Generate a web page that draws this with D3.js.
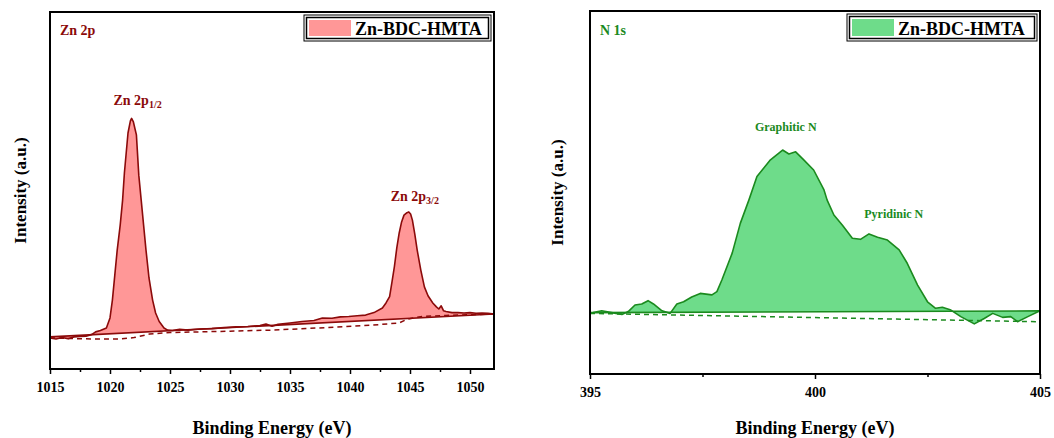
<!DOCTYPE html>
<html>
<head>
<meta charset="utf-8">
<script src="https://cdn.jsdelivr.net/npm/d3@7"></script>
<style>
  html, body { margin: 0; padding: 0; background: #fff; }
  svg { display: block; }
  text { font-family: "Liberation Serif", "Times New Roman", serif; font-weight: bold; }
</style>
</head>
<body>
<svg id="chart" width="1054" height="438"></svg>
<script>
// ---- Zn 2p spectrum (binding energy in eV, intensity in a.u.) ----
const zn2pEnergy = [1015.0,1015.5,1016.0,1016.5,1017.0,1017.5,1018.0,1018.5,1018.8,1019.2,1019.7,
  1020.0,1020.2,1020.4,1020.6,1020.85,1021.05,1021.2,1021.5,1021.7,1021.8,1021.95,1022.2,1022.4,1022.6,1022.8,
  1023.0,1023.25,1023.55,1023.8,1024.1,1024.5,1024.8,1025.2,1025.8,1026.5,1027.5,1028.5,1029.5,1030.5,1031.5,1032.5,
  1033.0,1033.5,1034.0,1035.0,1036.0,1037.0,1037.7,1038.5,1039.2,1039.9,1040.6,1041.3,1042.0,1042.7,1043.0,1043.3,
  1043.5,1043.7,1043.9,1044.1,1044.3,1044.5,1044.75,1044.9,1045.05,1045.2,1045.4,1045.6,1045.9,1046.2,1046.5,1046.9,
  1047.2,1047.4,1047.6,1047.8,1048.0,1048.5,1049.0,1049.5,1050.0,1050.5,1051.0,1051.5,1052.0];
const zn2pIntensity = [8.7,8.4,8.8,8.5,9.0,9.1,9.2,9.7,10.4,10.8,11.5,
  14.3,19.3,26.3,33.3,40.3,47.3,54.9,66.1,69.5,70.2,69.2,65.6,54.3,47.3,40.3,
  33.3,25.5,19.3,15.7,13.3,11.5,10.9,10.8,11.1,10.9,11.2,11.3,11.6,11.8,11.9,12.2,
  12.6,12.0,12.5,12.9,13.3,13.6,14.3,14.2,14.6,14.7,14.9,15.1,15.8,17.1,18.5,20.3,
  24.4,28.7,33.9,38.1,41.2,43.1,43.8,44.0,43.4,41.7,37.8,33.3,27.7,23.0,20.5,18.5,
  17.4,16.8,17.7,16.3,16.1,15.8,15.8,15.7,15.8,15.6,15.7,15.6,15.4];
// linear background joining the spectrum ends
const zn2pLineEnergy = [1015, 1052];
const zn2pLineIntensity = [9.0, 15.4];
// Shirley-type background
const zn2pBgEnergy = [1015,1017,1019,1020.8,1022,1023.3,1025,1030,1033.5,1038,1041.9,1044.1,1044.8,1046,1048,1052];
const zn2pBgIntensity = [8.7,8.5,8.4,8.4,8.8,9.8,10.2,10.6,10.9,11.6,12.3,12.9,14.0,14.7,15.0,15.4];
const zn2pTicks = [1015,1020,1025,1030,1035,1040,1045,1050];
const zn2pMinorTicks = [1017.5,1022.5,1027.5,1032.5,1037.5,1042.5,1047.5];

// ---- N 1s spectrum ----
const n1sEnergy = [395.07,395.26,395.48,395.71,395.85,396.00,396.15,396.29,396.41,396.60,396.78,396.93,
  397.08,397.26,397.45,397.71,397.82,397.93,398.16,398.34,398.53,398.71,399.01,399.28,399.42,399.57,399.75,
  399.97,400.20,400.27,400.42,400.61,400.83,401.01,401.20,401.39,401.61,401.87,402.05,402.28,402.50,402.68,
  402.83,403.02,403.24,403.54,403.76,403.95,404.17,404.35,404.50,404.73,405.00];
const n1sIntensity = [16.9,17.4,16.9,16.4,17.2,19.0,19.3,20.2,19.3,17.4,16.7,19.3,
  19.9,21.2,22.2,21.8,22.7,25.9,33.3,41.5,47.9,54.4,59.0,61.7,60.6,61.2,59.0,
  56.2,50.7,47.9,43.8,41.0,37.4,37.1,38.6,37.7,36.9,34.2,30.5,24.5,19.9,18.1,
  18.4,17.6,15.8,13.8,15.3,16.7,15.6,15.8,14.4,15.8,17.4];
const n1sLineEnergy = [395, 405];
const n1sLineIntensity = [16.9, 17.4];
const n1sBgEnergy = [395, 405];
const n1sBgIntensity = [16.7, 14.4];
const n1sTicks = [395, 400, 405];
const n1sMinorTicks = [397.5, 402.5];

const sampleName = "Zn-BDC-HMTA";

const panels = [
  {
    frame: { left: 50, right: 494, top: 12, bottom: 369 },
    domain: [1015, 1052],
    energy: zn2pEnergy, intensity: zn2pIntensity,
    lineE: zn2pLineEnergy, lineI: zn2pLineIntensity,
    bgE: zn2pBgEnergy, bgI: zn2pBgIntensity,
    ticks: zn2pTicks, minor: zn2pMinorTicks,
    fill: "#ff9797", stroke: "#8b0a0a",
    title: "Zn 2p", titleX: 60,
    ylabelX: 20,
    legend: { x: 304, y: 15, w: 187, h: 26 },
    notes: [
      { x: 1022.3, y: 74, main: "Zn 2p", sub: "1/2" },
      { x: 1045.4, y: 47, main: "Zn 2p", sub: "3/2" }
    ],
    noteSize: 14
  },
  {
    frame: { left: 590, right: 1040, top: 11, bottom: 374 },
    domain: [395, 405],
    energy: n1sEnergy, intensity: n1sIntensity,
    lineE: n1sLineEnergy, lineI: n1sLineIntensity,
    bgE: n1sBgEnergy, bgI: n1sBgIntensity,
    ticks: n1sTicks, minor: n1sMinorTicks,
    fill: "#6edc8a", stroke: "#1b8a1e",
    title: "N 1s", titleX: 600,
    ylabelX: 557,
    legend: { x: 847, y: 14, w: 190, h: 27 },
    notes: [
      { x: 399.35, y: 66.9, main: "Graphitic N" },
      { x: 401.75, y: 43, main: "Pyridinic N" }
    ],
    noteSize: 12
  }
];

const svg = d3.select("#chart");

panels.forEach(p => {
  const f = p.frame;
  const x = d3.scaleLinear().domain(p.domain).range([f.left, f.right]);
  const y = d3.scaleLinear().domain([0, 100]).range([f.bottom, f.top]);
  const g = svg.append("g");

  const lineAt = d3.scaleLinear().domain(p.lineE).range(p.lineI);
  const pts = p.energy.map((e, i) => ({ e, v: p.intensity[i] }));

  // filled area between spectrum and linear background
  g.append("path")
    .datum(pts)
    .attr("fill", p.fill)
    .attr("d", d3.area().x(d => x(d.e)).y0(d => y(lineAt(d.e))).y1(d => y(d.v)));

  // Shirley background (dashed)
  const bg = p.bgE.map((e, i) => ({ e, v: p.bgI[i] }));
  g.append("path")
    .datum(bg)
    .attr("fill", "none")
    .attr("stroke", p.stroke)
    .attr("stroke-width", 1.5)
    .attr("stroke-dasharray", "5,4")
    .attr("d", d3.line().x(d => x(d.e)).y(d => y(d.v)));

  // linear background
  const lb = p.lineE.map((e, i) => ({ e, v: p.lineI[i] }));
  g.append("path")
    .datum(lb)
    .attr("fill", "none")
    .attr("stroke", p.stroke)
    .attr("stroke-width", 1.6)
    .attr("d", d3.line().x(d => x(d.e)).y(d => y(d.v)));

  // spectrum outline
  g.append("path")
    .datum(pts)
    .attr("fill", "none")
    .attr("stroke", p.stroke)
    .attr("stroke-width", 1.6)
    .attr("stroke-linejoin", "round")
    .attr("d", d3.line().x(d => x(d.e)).y(d => y(d.v)));

  // bottom axis with major and minor ticks
  const ax = g.append("g").attr("transform", `translate(0,${f.bottom})`)
    .call(d3.axisBottom(x).tickValues(p.ticks).tickSize(5).tickPadding(8).tickFormat(d3.format("d")));
  ax.select(".domain").remove();
  ax.selectAll("line").attr("stroke", "#000").attr("stroke-width", 1.5);
  ax.selectAll("text").attr("font-size", 14).attr("fill", "#000")
    .style("font-family", "'Liberation Serif', 'Times New Roman', serif").style("font-weight", "bold");
  const axm = g.append("g").attr("transform", `translate(0,${f.bottom})`)
    .call(d3.axisBottom(x).tickValues(p.minor).tickSize(3).tickFormat(""));
  axm.select(".domain").remove();
  axm.selectAll("line").attr("stroke", "#000").attr("stroke-width", 1.5);

  // frame
  g.append("rect")
    .attr("x", f.left).attr("y", f.top)
    .attr("width", f.right - f.left).attr("height", f.bottom - f.top)
    .attr("fill", "none").attr("stroke", "#000").attr("stroke-width", 2);

  // axis titles
  g.append("text")
    .attr("x", (f.left + f.right) / 2).attr("y", 434)
    .attr("text-anchor", "middle").attr("font-size", 18).attr("fill", "#000")
    .text("Binding Energy (eV)");
  g.append("text")
    .attr("transform", `translate(${p.ylabelX},${(f.top + f.bottom) / 2}) rotate(-90)`)
    .attr("text-anchor", "middle").attr("dy", "0.35em").attr("font-size", 17).attr("fill", "#000")
    .text("Intensity (a.u.)");

  // panel title
  g.append("text")
    .attr("x", p.titleX).attr("y", 35)
    .attr("font-size", 14).attr("fill", p.stroke)
    .text(p.title);

  // peak annotations
  p.notes.forEach(n => {
    const t = g.append("text")
      .attr("x", x(n.x)).attr("y", y(n.y))
      .attr("text-anchor", "middle").attr("font-size", p.noteSize).attr("fill", p.stroke);
    t.append("tspan").text(n.main);
    if (n.sub) t.append("tspan").attr("font-size", 10).attr("dy", 3).text(n.sub);
  });

  // legend
  const L = p.legend;
  const lg = g.append("g");
  lg.append("rect").attr("x", L.x).attr("y", L.y).attr("width", L.w).attr("height", L.h)
    .attr("fill", "#fff").attr("stroke", "#000").attr("stroke-width", 1);
  lg.append("rect").attr("x", L.x + 2.5).attr("y", L.y + 2.5).attr("width", L.w - 5).attr("height", L.h - 5)
    .attr("fill", "none").attr("stroke", "#000").attr("stroke-width", 1.5);
  lg.append("rect").attr("x", L.x + 5).attr("y", L.y + 5).attr("width", 42).attr("height", L.h - 10)
    .attr("fill", p.fill);
  lg.append("text").attr("x", L.x + 51).attr("y", L.y + L.h - 6)
    .attr("font-size", 18).attr("fill", "#000").text(sampleName);
});
</script>
</body>
</html>
